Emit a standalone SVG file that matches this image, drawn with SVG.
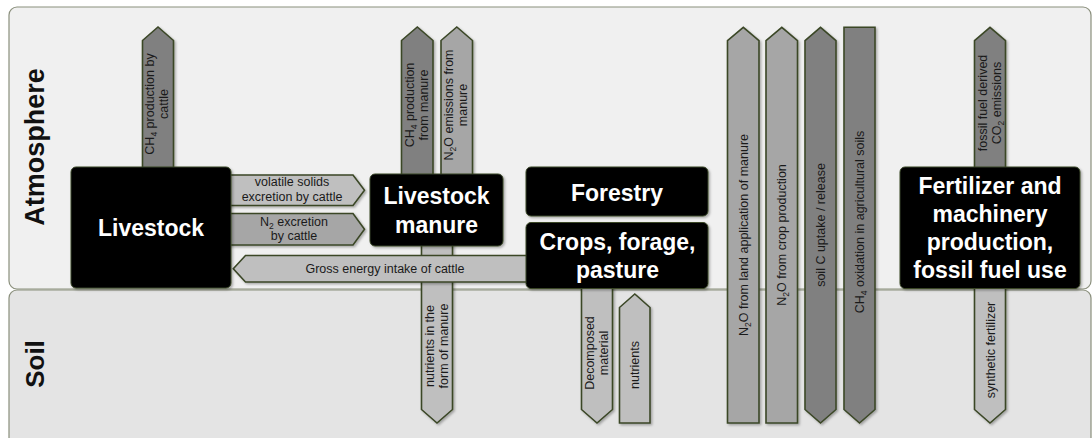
<svg xmlns="http://www.w3.org/2000/svg" width="1092" height="438" viewBox="0 0 1092 438">
<defs>
<filter id="sh" x="-20%" y="-20%" width="140%" height="140%">
<feDropShadow dx="1.5" dy="1.5" stdDeviation="1" flood-color="#000" flood-opacity="0.3"/>
</filter>
<style>
.panel{stroke:#8a8f7c;stroke-width:1.2}
.arr{stroke:#3b4727;stroke-width:1.6;stroke-linejoin:miter;filter:url(#sh)}
.dk{fill:#808080}.md{fill:#a6a6a6}.lt{fill:#bfbfbf}
.node{fill:#000;stroke:#3b4727;stroke-width:1;filter:url(#sh)}
.nt{font-family:"Liberation Sans",Arial,sans-serif;font-weight:bold;font-size:23px;fill:#fff;text-anchor:middle}
.lbl{font-family:"Liberation Sans",Arial,sans-serif;font-size:12.5px;fill:#1a1a1a;text-anchor:middle}
.sec{font-family:"Liberation Sans",Arial,sans-serif;font-weight:bold;font-size:27px;fill:#111;text-anchor:middle}
.sub{font-size:8.5px}
</style>
</defs>
<g id="panels">
<rect class="panel" x="9" y="7" width="1082" height="282" rx="8" fill="#f0f0f0"/>
<rect class="panel" x="9" y="290" width="1082" height="160" rx="8" fill="#e4e4e4"/>
<text class="sec" transform="translate(44,147) rotate(-90)">Atmosphere</text>
<text class="sec" style="font-size:26px" transform="translate(44,364) rotate(-90)">Soil</text>
</g>
<g id="connectors">
<!-- CH4 production by cattle -->
<path class="arr dk" d="M142.5,168 L142.5,40.5 L158,27 L173.5,40.5 L173.5,168 Z"/>
<text class="lbl" transform="translate(157,104) rotate(-90)"><tspan x="0" y="-3">CH<tspan class="sub" dy="3">4</tspan><tspan dy="-3"> production by</tspan></tspan><tspan x="0" y="11">cattle</tspan></text>
<!-- CH4 production from manure -->
<path class="arr dk" d="M401.5,175 L401.5,40.5 L417.3,27 L433,40.5 L433,175 Z"/>
<text class="lbl" transform="translate(417,105) rotate(-90)"><tspan x="0" y="-3">CH<tspan class="sub" dy="3">4</tspan><tspan dy="-3"> production</tspan></tspan><tspan x="0" y="11">from manure</tspan></text>
<!-- N2O emissions from manure -->
<path class="arr md" d="M441,175 L441,40.5 L456.8,27 L472.5,40.5 L472.5,175 Z"/>
<text class="lbl" transform="translate(456,105) rotate(-90)"><tspan x="0" y="-3">N<tspan class="sub" dy="3">2</tspan><tspan dy="-3">O emissions from</tspan></tspan><tspan x="0" y="11">manure</tspan></text>
<!-- volatile solids -->
<path class="arr lt" d="M225,175 L353,175 L364.5,190.3 L353,205.5 L225,205.5 Z"/>
<text class="lbl"><tspan x="292" y="186">volatile solids</tspan><tspan x="292" y="201">excretion by cattle</tspan></text>
<!-- N2 excretion -->
<path class="arr md" d="M225,213.5 L353,213.5 L364.5,229.3 L353,245 L225,245 Z"/>
<text class="lbl"><tspan x="294" y="226">N<tspan class="sub" dy="3">2</tspan><tspan dy="-3"> excretion</tspan></tspan><tspan x="294" y="240">by cattle</tspan></text>
<!-- nutrients in the form of manure -->
<path class="arr lt" d="M421.5,240 L421.5,409.5 L437,423 L452.5,409.5 L452.5,240 Z"/>
<text class="lbl" transform="translate(437,346) rotate(-90)"><tspan x="0" y="-3">nutrients in the</tspan><tspan x="0" y="11">form of manure</tspan></text>
<!-- Gross energy intake -->
<path class="arr lt" d="M540,255.5 L245.5,255.5 L233.3,268.8 L245.5,282 L540,282 Z"/>
<text class="lbl" x="385" y="273">Gross energy intake of cattle</text>
<!-- Decomposed material -->
<path class="arr lt" d="M581.5,282 L581.5,409.5 L597,423 L612.5,409.5 L612.5,282 Z"/>
<text class="lbl" transform="translate(597,353) rotate(-90)"><tspan x="0" y="-3">Decomposed</tspan><tspan x="0" y="11">material</tspan></text>
<!-- nutrients -->
<path class="arr lt" d="M619.5,423 L619.5,307.5 L634.8,294 L650,307.5 L650,423 Z"/>
<text class="lbl" transform="translate(639,365) rotate(-90)"><tspan x="0" y="0">nutrients</tspan></text>
<!-- N2O from land application of manure -->
<path class="arr md" d="M727.5,423 L727.5,40.7 L743.3,27.3 L759,40.7 L759,423 Z"/>
<text class="lbl" transform="translate(747.5,235) rotate(-90)"><tspan x="0" y="0">N<tspan class="sub" dy="3">2</tspan><tspan dy="-3">O from land application of manure</tspan></tspan></text>
<!-- N2O from crop production -->
<path class="arr md" d="M766,423 L766,40.7 L781.8,27.3 L797.5,40.7 L797.5,423 Z"/>
<text class="lbl" transform="translate(786,235) rotate(-90)"><tspan x="0" y="0">N<tspan class="sub" dy="3">2</tspan><tspan dy="-3">O from crop production</tspan></tspan></text>
<!-- soil C uptake / release -->
<path class="arr dk" d="M805,409.5 L805,40.7 L820.5,27.3 L836,40.7 L836,409.5 L820.5,423 Z"/>
<text class="lbl" transform="translate(825,225) rotate(-90)"><tspan x="0" y="0">soil C uptake / release</tspan></text>
<!-- CH4 oxidation in agricultural soils -->
<path class="arr dk" d="M844,27.3 L875,27.3 L875,409.5 L859.5,423 L844,409.5 Z"/>
<text class="lbl" transform="translate(864,222) rotate(-90)"><tspan x="0" y="0">CH<tspan class="sub" dy="3">4</tspan><tspan dy="-3"> oxidation in agricultural soils</tspan></tspan></text>
<!-- fossil fuel derived CO2 emissions -->
<path class="arr dk" d="M974.5,168 L974.5,40.7 L990,27.3 L1005.5,40.7 L1005.5,168 Z"/>
<text class="lbl" transform="translate(990,103) rotate(-90)"><tspan x="0" y="-3">fossil fuel derived</tspan><tspan x="0" y="11">CO<tspan class="sub" dy="3">2</tspan><tspan dy="-3"> emissions</tspan></tspan></text>
<!-- synthetic fertilizer -->
<path class="arr lt" d="M974.5,282 L974.5,409.5 L990,423 L1005.5,409.5 L1005.5,282 Z"/>
<text class="lbl" transform="translate(994.5,350) rotate(-90)"><tspan x="0" y="0">synthetic fertilizer</tspan></text>
</g>
<g id="livestock">
<rect class="node" x="71" y="167" width="160" height="121" rx="5"/>
<text class="nt" x="151" y="236">Livestock</text>
</g>
<g id="livestock-manure">
<rect class="node" x="370" y="174" width="133" height="72" rx="5"/>
<text class="nt"><tspan x="436.5" y="204">Livestock</tspan><tspan x="436.5" y="233">manure</tspan></text>
</g>
<g id="forestry">
<rect class="node" x="526" y="167" width="182" height="49" rx="5"/>
<text class="nt" x="617" y="201">Forestry</text>
</g>
<g id="crops">
<rect class="node" x="526" y="222.5" width="182" height="66" rx="5"/>
<text class="nt"><tspan x="617.5" y="250">Crops, forage,</tspan><tspan x="617.5" y="277.5">pasture</tspan></text>
</g>
<g id="fertilizer">
<rect class="node" x="900" y="167" width="180" height="121.5" rx="5"/>
<text class="nt"><tspan x="990" y="194">Fertilizer and</tspan><tspan x="990" y="222">machinery</tspan><tspan x="990" y="250">production,</tspan><tspan x="990" y="278">fossil fuel use</tspan></text>
</g>
</svg>
